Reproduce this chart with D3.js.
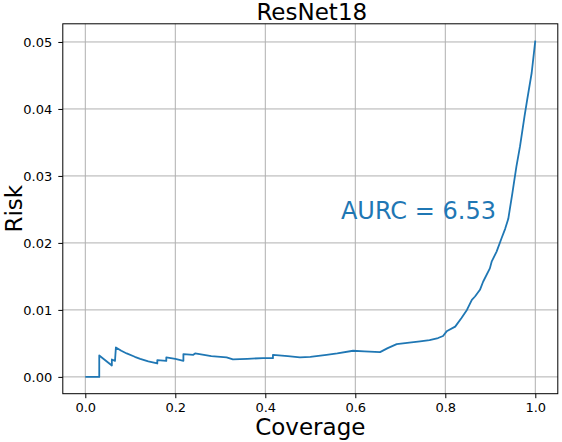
<!DOCTYPE html>
<html>
<head>
<meta charset="utf-8">
<script src="https://cdn.jsdelivr.net/npm/d3@7"></script>
<style>
  body { margin: 0; background: #fff; }
  svg { display: block; font-family: "DejaVu Sans", sans-serif; }
</style>
</head>
<body>
<script>
// risk-coverage curve, values
var coverage = [0, 0.031, 0.031, 0.059, 0.059, 0.066, 0.068, 0.08, 0.092, 0.11, 0.122, 0.14, 0.160,
  0.160, 0.180, 0.180, 0.200, 0.218, 0.218, 0.240, 0.244, 0.28, 0.314, 0.328, 0.36, 0.395, 0.417,
  0.417, 0.45, 0.477, 0.50, 0.536, 0.56, 0.595, 0.62, 0.655, 0.672, 0.692, 0.72, 0.744, 0.765,
  0.784, 0.795, 0.803, 0.822, 0.836, 0.848, 0.859, 0.866, 0.877, 0.884, 0.899, 0.903, 0.914,
  0.925, 0.933, 0.940, 0.944, 0.949, 0.953, 0.958, 0.966, 0.976, 0.982, 0.992, 1.0];
var risk = [0, 0, 0.0032, 0.0017, 0.0026, 0.0024, 0.0044, 0.0039, 0.0035, 0.0030, 0.0027, 0.0023, 0.0020,
  0.0025, 0.0024, 0.0029, 0.0027, 0.0024, 0.0034, 0.0033, 0.0035, 0.0031, 0.0029, 0.0026, 0.0027, 0.0028, 0.0028,
  0.0033, 0.0031, 0.0029, 0.0030, 0.0033, 0.0035, 0.0039, 0.0038, 0.0037, 0.0043, 0.0049, 0.0051, 0.0053, 0.0055,
  0.0058, 0.0061, 0.0068, 0.0075, 0.0088, 0.0100, 0.0115, 0.0120, 0.0130, 0.0142, 0.0162, 0.0172, 0.0187,
  0.0207, 0.0221, 0.0236, 0.0253, 0.0274, 0.0292, 0.0314, 0.0344, 0.0389, 0.0414, 0.0454, 0.0502];
var xTicks = [0, 0.2, 0.4, 0.6, 0.8, 1.0];
var yTicks = [0, 0.01, 0.02, 0.03, 0.04, 0.05];
var title = 'ResNet18';
var aurcLabel = 'AURC = 6.53';
var labelPos = [0.568, 0.0236];

var width = 562, height = 442;
var margin = {top: 23.8, right: 4.2, bottom: 48.3, left: 62.8};
var blue = '#1f77b4';

var svg = d3.select('body')
  .append('svg')
  .attr('width', width)
  .attr('height', height);

// matplotlib style 5% margins
var xr = d3.extent(coverage), yr = d3.extent(risk);
var xpad = (xr[1] - xr[0]) * 0.05, ypad = (yr[1] - yr[0]) * 0.05;

var x = d3.scaleLinear()
  .domain([xr[0] - xpad, xr[1] + xpad])
  .range([margin.left, width - margin.right]);
var y = d3.scaleLinear()
  .domain([yr[0] - ypad, yr[1] + ypad])
  .range([height - margin.bottom, margin.top]);

// grid
svg.append('g')
  .selectAll('line')
  .data(xTicks)
  .enter()
  .append('line')
  .attr('x1', function (d) { return x(d); })
  .attr('x2', function (d) { return x(d); })
  .attr('y1', margin.top)
  .attr('y2', height - margin.bottom)
  .attr('stroke', '#b0b0b0')
  .attr('stroke-width', 1);
svg.append('g')
  .selectAll('line')
  .data(yTicks)
  .enter()
  .append('line')
  .attr('x1', margin.left)
  .attr('x2', width - margin.right)
  .attr('y1', function (d) { return y(d); })
  .attr('y2', function (d) { return y(d); })
  .attr('stroke', '#b0b0b0')
  .attr('stroke-width', 1);

// curve
var line = d3.line()
  .x(function (d, i) { return x(coverage[i]); })
  .y(function (d) { return y(d); });
svg.append('path')
  .datum(risk)
  .attr('d', line)
  .attr('fill', 'none')
  .attr('stroke', blue)
  .attr('stroke-width', 1.8)
  .attr('stroke-linejoin', 'round');

// axes
var xAxis = svg.append('g')
  .attr('transform', 'translate(0,' + (height - margin.bottom) + ')')
  .call(d3.axisBottom(x).tickValues(xTicks).tickFormat(d3.format('.1f')).tickSize(4.5).tickPadding(5).tickSizeOuter(0));
var yAxis = svg.append('g')
  .attr('transform', 'translate(' + margin.left + ',0)')
  .call(d3.axisLeft(y).tickValues(yTicks).tickFormat(d3.format('.2f')).tickSize(4.5).tickPadding(6).tickSizeOuter(0));
[xAxis, yAxis].forEach(function (g) {
  g.select('.domain').remove();
  g.selectAll('text').attr('font-size', 13).attr('font-family', '"DejaVu Sans", sans-serif').attr('fill', '#000');
  g.selectAll('line').attr('stroke', '#000').attr('stroke-width', 1);
});

// frame
svg.append('rect')
  .attr('x', margin.left)
  .attr('y', margin.top)
  .attr('width', width - margin.left - margin.right)
  .attr('height', height - margin.top - margin.bottom)
  .attr('fill', 'none')
  .attr('stroke', '#000')
  .attr('stroke-width', 1);

var cx = (margin.left + width - margin.right) / 2;
svg.append('text')
  .attr('x', cx + 1.5)
  .attr('y', 20)
  .attr('text-anchor', 'middle')
  .attr('font-size', 23)
  .text(title);

svg.append('text')
  .attr('x', cx)
  .attr('y', 435)
  .attr('text-anchor', 'middle')
  .attr('font-size', 23)
  .text('Coverage');

svg.append('text')
  .attr('transform', 'translate(21.5,' + ((margin.top + height - margin.bottom) / 2) + ') rotate(-90)')
  .attr('text-anchor', 'middle')
  .attr('font-size', 23)
  .text('Risk');

svg.append('text')
  .attr('x', x(labelPos[0]))
  .attr('y', y(labelPos[1]))
  .attr('font-size', 24)
  .attr('fill', blue)
  .text(aurcLabel);
</script>
</body>
</html>
